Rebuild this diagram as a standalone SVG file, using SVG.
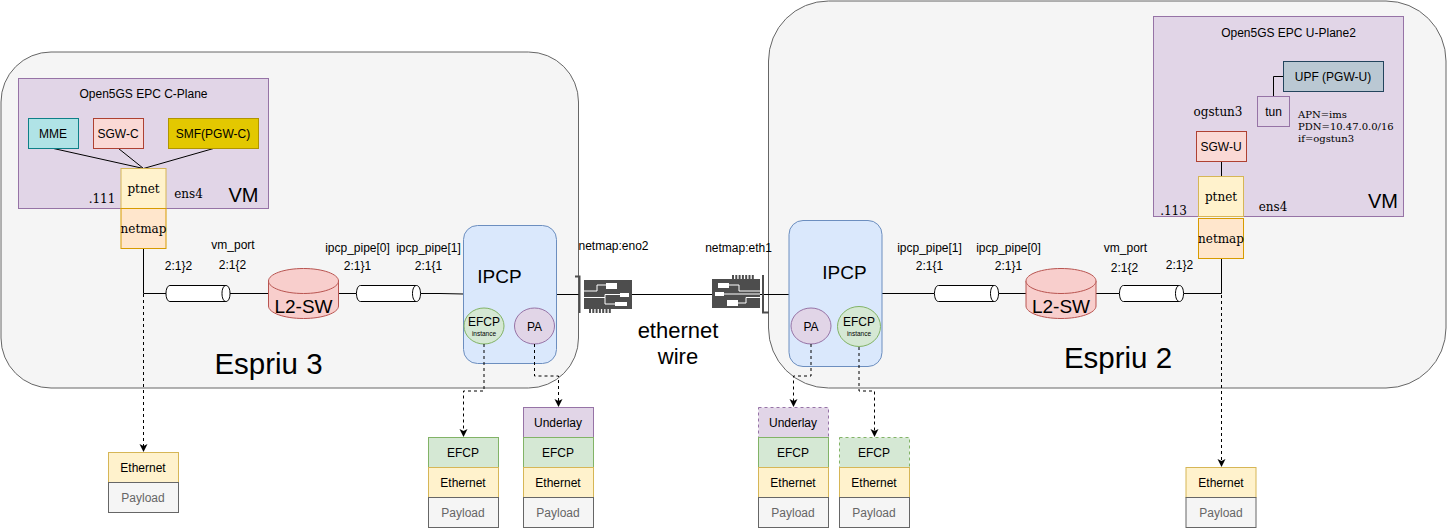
<svg xmlns="http://www.w3.org/2000/svg" width="1447" height="528" viewBox="0 0 1447 528">
<style>
text{font-family:"Liberation Sans",Arial,sans-serif;font-size:12px;fill:#000;text-anchor:middle}
.s{font-family:"DejaVu Serif",serif}
.st{text-anchor:start}
.big{font-size:29.500px}
.l{font-size:20px}
.m{font-size:19px}
.host{fill:#f5f5f5;stroke:#666}
.vm{fill:#e1d5e7;stroke:#9673a6}
.pur{fill:#e1d5e7;stroke:#9673a6}
.yel{fill:#fff2cc;stroke:#d6b656}
.ora{fill:#ffe6cc;stroke:#d79b00}
.grn{fill:#d5e8d4;stroke:#82b366}
.gry{fill:#f5f5f5;stroke:#666}
.red{fill:#fad9d5;stroke:#ae4132}
.pay{fill:#666}
.blue{fill:#dae8fc;stroke:#6c8ebf}
.cyl{fill:#f8cecc;stroke:#b85450}
.cab{fill:#fff;stroke:#000}
.w{fill:none;stroke:#000}
.d{fill:none;stroke:#000;stroke-dasharray:3 3}
.dd{stroke-dasharray:3 3}
.nic{fill:#4d4d4d}
.wl{fill:none;stroke:#fff;stroke-width:1}
</style>
<defs>
<marker id="a" markerWidth="10" markerHeight="10" refX="7" refY="4" orient="auto" markerUnits="userSpaceOnUse"><path d="M0 0L8 4L0 8L2 4Z" fill="#000"/></marker>
<g id="cable"><path class="cab" d="M4 0H60C62.500 0 64 3.600 64 8S62.500 16 60 16H4C1.500 16 0 12.400 0 8S1.500 0 4 0Z"/><path class="cab" d="M60 0C57.500 0 56 3.600 56 8S57.500 16 60 16"/></g>
<g id="sw"><path class="cyl" d="M0 12.500C0 5.600 15.700 0 35 0S70 5.600 70 12.500V37.500C70 44.400 54.300 50 35 50S0 44.400 0 37.500Z"/><path class="cyl" fill="none" d="M0 12.500C0 19.400 15.700 25 35 25S70 19.400 70 12.500"/></g>
</defs>

<g id="espriu3"><rect class="host" x="1" y="52" width="577.500" height="336" rx="50"/><text class="big" x="268.500" y="374">Espriu 3</text></g>
<g id="espriu2"><rect class="host" x="768.500" y="1" width="677.500" height="387" rx="60"/><text class="big" x="1118" y="368">Espriu 2</text></g>

<g id="vm1"><rect class="vm" x="18.500" y="78.500" width="250" height="130"/><text x="143.500" y="98">Open5GS EPC C-Plane</text><text class="l" x="243.500" y="202">VM</text><text class="s" x="102" y="203">.111</text><text class="s" x="188.500" y="198">ens4</text></g>
<g id="vm2"><rect class="vm" x="1153.500" y="16.500" width="250" height="200"/><text x="1288.500" y="37">Open5GS EPC U-Plane2</text><text class="l" x="1383" y="208">VM</text><text class="s" x="1173.500" y="215">.113</text><text class="s" x="1273" y="211">ens4</text><text class="s" x="1218" y="116">ogstun3</text><text class="s st" style="font-size:10px" x="1298" y="118">APN=ims</text><text class="s st" style="font-size:10px" x="1298" y="130">PDN=10.47.0.0/16</text><text class="s st" style="font-size:10px" x="1298" y="142">if=ogstun3</text></g>

<g id="connectors">
<path class="w" d="M53.500 148.500L143.500 168.500M118.500 148.500L143.500 168.500M213.500 148.500L143.500 168.500"/>
<path class="w" d="M143.500 248.500V293.500H166M230 293.500H268M338 293.500H356M420.500 293.500H440L463.500 294"/>
<path class="w" d="M556.500 294.500H580M632 294.500H712M760 294.500H789M881.500 293.500H934M999 293.500H1026M1096 293.500H1119M1184 293.500H1221.500V258.500"/>
<path class="w" d="M1221.500 161.500V176.500M1273.500 96.500V76.500H1283.500"/>
<path class="d" d="M143.500 294V451" marker-end="url(#a)"/>
<path class="d" d="M1221.500 259V466" marker-end="url(#a)"/>
</g>

<g id="mme"><rect x="28.500" y="118.500" width="50" height="30" fill="#b0e3e6" stroke="#0e8088"/><text x="53" y="138">MME</text></g>
<g id="sgwc"><rect class="red" x="93.500" y="118.500" width="50" height="30"/><text x="118" y="138">SGW-C</text></g>
<g id="smf"><rect x="168.500" y="118.500" width="90" height="30" fill="#e3c800" stroke="#b09500"/><text x="213" y="138">SMF(PGW-C)</text></g>
<g id="ptnet1"><rect class="yel" x="121" y="168.500" width="45" height="40"/><text class="s" x="143.500" y="193">ptnet</text></g>
<g id="netmap1"><rect class="ora" x="121" y="208.500" width="45" height="40"/><text class="s" x="143.500" y="233">netmap</text></g>

<g id="upf"><rect x="1283.500" y="61.500" width="100" height="30" fill="#bac8d3" stroke="#23445d"/><text x="1333" y="81">UPF (PGW-U)</text></g>
<g id="tun"><rect class="pur" x="1257.500" y="96.500" width="32" height="30"/><text x="1273.500" y="116">tun</text></g>
<g id="sgwu"><rect class="red" x="1196.500" y="131.500" width="50" height="30"/><text x="1221" y="151">SGW-U</text></g>
<g id="ptnet2"><rect class="yel" x="1198.500" y="176.500" width="45" height="40"/><text class="s" x="1221" y="201">ptnet</text></g>
<g id="netmap2"><rect class="ora" x="1198.500" y="218.500" width="45" height="40"/><text class="s" x="1221" y="243">netmap</text></g>

<g id="pipes">
<use href="#cable" x="166" y="285.500"/><use href="#cable" x="356.500" y="285.500"/><use href="#cable" x="934.500" y="285.500"/><use href="#cable" x="1119.500" y="285.500"/>
<text x="178.500" y="270">2:1}2</text><text x="233" y="249">vm_port</text><text x="232.500" y="269">2:1{2</text>
<text x="357.500" y="252">ipcp_pipe[0]</text><text x="357.500" y="270">2:1}1</text><text x="428.500" y="252">ipcp_pipe[1]</text><text x="428.500" y="270">2:1{1</text>
<text x="929.500" y="252">ipcp_pipe[1]</text><text x="929.500" y="270">2:1{1</text><text x="1008.500" y="252">ipcp_pipe[0]</text><text x="1008.500" y="270">2:1}1</text>
<text x="1125.500" y="252">vm_port</text><text x="1124.500" y="272">2:1{2</text><text x="1179.500" y="269">2:1}2</text>
<text x="613.500" y="250">netmap:eno2</text><text x="738.500" y="252">netmap:eth1</text>
</g>

<g id="l2sw1"><use href="#sw" x="268.500" y="268.500"/><text class="m" x="303.500" y="313">L2-SW</text></g>
<g id="l2sw2"><use href="#sw" x="1026" y="268.500"/><text class="m" x="1061" y="313">L2-SW</text></g>

<g id="ipcp1"><rect class="blue" x="463.500" y="225.500" width="93" height="138" rx="14"/><text class="m" x="499.500" y="283">IPCP</text>
<ellipse class="grn" cx="484" cy="326" rx="20" ry="18"/><text x="484" y="326">EFCP</text><text style="font-size:6.500px" x="484" y="336">instance</text>
<ellipse class="pur" cx="534.500" cy="326" rx="20" ry="18"/><text x="534.500" y="331">PA</text></g>
<g id="ipcp2"><rect class="blue" x="789" y="220.500" width="93" height="146" rx="14"/><text class="m" x="844.500" y="279">IPCP</text>
<ellipse class="pur" cx="811" cy="326" rx="20" ry="18"/><text x="811" y="331">PA</text>
<ellipse class="grn" cx="859" cy="326.500" rx="21.500" ry="20"/><text x="859" y="326">EFCP</text><text style="font-size:6.500px" x="859" y="336">instance</text></g>

<g id="nic1"><path class="nic" d="M584 280H632V309H584ZM589 309h2v4h-2zM592.300 309h2v4h-2zM595.600 309h2v4h-2zM598.900 309h2v4h-2zM602.200 309h2v4h-2zM605.500 309h2v4h-2zM608.800 309h2v4h-2z"/><path d="M575 275.500H580.500V313H578.500V277.500H575Z" fill="#4d4d4d"/>
<path class="wl" d="M584 291H597V285H606M584 297.500H605V294.500H620M605 297.500V304H615"/><path fill="#fff" d="M606 283h11v6h-11zM620 293h9v4h-9zM615 302h12v4h-12z"/></g>
<g id="nic2"><path class="nic" d="M712 279H760V308H712ZM732 275h2v4h-2zM735.300 275h2v4h-2zM738.600 275h2v4h-2zM741.900 275h2v4h-2zM745.200 275h2v4h-2zM748.500 275h2v4h-2zM751.800 275h2v4h-2z"/><path d="M762 275H764V311.500H769V313.500H762Z" fill="#4d4d4d"/>
<path class="wl" d="M729 285H739V291H760M724 294H760M738 303H746V297.500H760"/><path fill="#fff" d="M718 283h11v5h-11zM715 292h9v4h-9zM727 300h11v6h-11z"/></g>

<text class="m" x="678" y="338" style="font-size:22px">ethernet</text><text class="m" x="678" y="364" style="font-size:22px">wire</text>

<g id="dashed-connectors">
<path class="d" d="M484 344V391H463.500V436" marker-end="url(#a)"/>
<path class="d" d="M534.500 344V376H558.500V406" marker-end="url(#a)"/>
<path class="d" d="M811 344V376H793.500V406" marker-end="url(#a)"/>
<path class="d" d="M859 347V391H874.500V436" marker-end="url(#a)"/>
</g>

<g id="stack1"><rect class="yel" x="108.500" y="452.500" width="70" height="30"/><text x="143" y="472">Ethernet</text><rect class="gry" x="108.500" y="482.500" width="70" height="30"/><text class="pay" x="143" y="502">Payload</text></g>
<g id="stack2"><rect class="grn" x="428.500" y="437.500" width="70" height="30"/><text x="463" y="457">EFCP</text><rect class="yel" x="428.500" y="467.500" width="70" height="30"/><text x="463" y="487">Ethernet</text><rect class="gry" x="428.500" y="497.500" width="70" height="30"/><text class="pay" x="463" y="517">Payload</text></g>
<g id="stack3"><rect class="pur" x="523.500" y="407.500" width="70" height="30"/><text x="558" y="427">Underlay</text><rect class="grn" x="523.500" y="437.500" width="70" height="30"/><text x="558" y="457">EFCP</text><rect class="yel" x="523.500" y="467.500" width="70" height="30"/><text x="558" y="487">Ethernet</text><rect class="gry" x="523.500" y="497.500" width="70" height="30"/><text class="pay" x="558" y="517">Payload</text></g>
<g id="stack4"><rect class="pur dd" x="758.500" y="407.500" width="70" height="30"/><text x="793" y="427">Underlay</text><rect class="grn" x="758.500" y="437.500" width="70" height="30"/><text x="793" y="457">EFCP</text><rect class="yel" x="758.500" y="467.500" width="70" height="30"/><text x="793" y="487">Ethernet</text><rect class="gry" x="758.500" y="497.500" width="70" height="30"/><text class="pay" x="793" y="517">Payload</text></g>
<g id="stack5"><rect class="grn dd" x="839.500" y="437.500" width="70" height="30"/><text x="874" y="457">EFCP</text><rect class="yel" x="839.500" y="467.500" width="70" height="30"/><text x="874" y="487">Ethernet</text><rect class="gry" x="839.500" y="497.500" width="70" height="30"/><text class="pay" x="874" y="517">Payload</text></g>
<g id="stack6"><rect class="yel" x="1186" y="467.500" width="70" height="30"/><text x="1221" y="487">Ethernet</text><rect class="gry" x="1186" y="497.500" width="70" height="30"/><text class="pay" x="1221" y="517">Payload</text></g>
</svg>
